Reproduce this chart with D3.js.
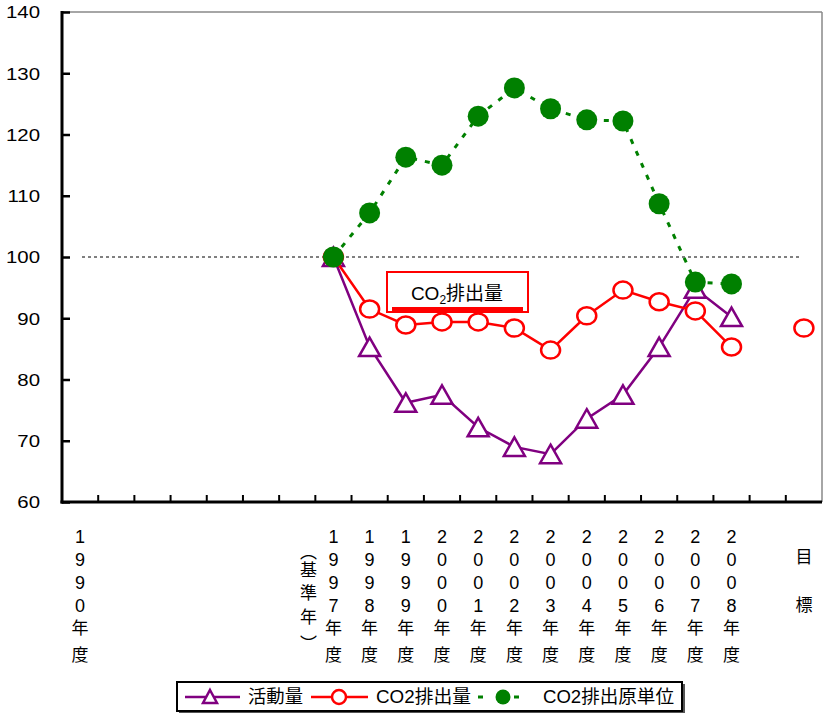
<!DOCTYPE html>
<html><head><meta charset="utf-8">
<script src="https://cdn.jsdelivr.net/npm/d3@7"></script>
<style>
body{margin:0;background:#fff;}
svg{display:block;}
text{font-family:"Liberation Sans",Arial,"Noto Sans CJK JP",sans-serif;}
.cjk{font-family:"Liberation Sans","Noto Sans CJK JP",sans-serif;}
</style></head>
<body>
<svg id="c" width="823" height="713"></svg>
<script>
// ---- data ----
const categories = ["1990","1991","1992","1993","1994","1995","1996","1997","1998","1999","2000","2001","2002","2003","2004","2005","2006","2007","2008","blank","目標"];
const xLabels = ["1990年度","","","","","","","1997年度","1998年度","1999年度","2000年度","2001年度","2002年度","2003年度","2004年度","2005年度","2006年度","2007年度","2008年度","","目標"];
const years = ["1997","1998","1999","2000","2001","2002","2003","2004","2005","2006","2007","2008"];
const activity = [100, 85.3, 76.2, 77.5, 72.2, 69.0, 67.8, 73.6, 77.5, 85.3, 94.8, 90.2];
const emission = [100, 91.5, 88.9, 89.4, 89.4, 88.4, 84.8, 90.4, 94.6, 92.7, 91.2, 85.3];
const emissionTarget = 88.4;
const intensity = [100, 107.2, 116.3, 115.0, 123.0, 127.6, 124.2, 122.4, 122.2, 108.7, 95.9, 95.6];
const yTicks = [60,70,80,90,100,110,120,130,140];
const seriesNames = ["活動量","CO2排出量","CO2排出原単位"];

const svg = d3.select("#c");
const L=62, R=822, T=12, B=502;
const x = d3.scaleBand().domain(categories).range([L,R]).padding(0);
const y = d3.scaleLinear().domain([60,140]).range([B,T]);
const cx = c => x(c)+x.bandwidth()/2;
const stretch = (sel,k) => sel.each(function(){ const w=this.getComputedTextLength(); d3.select(this).attr("textLength",w*k).attr("lengthAdjust","spacingAndGlyphs"); });

// frame top/right
svg.append("line").attr("x1",L).attr("x2",R).attr("y1",T).attr("y2",T).attr("stroke","#888").attr("stroke-width",1.5);
svg.append("line").attr("x1",R).attr("x2",R).attr("y1",T).attr("y2",B).attr("stroke","#888").attr("stroke-width",1.5);

// y axis
const ya = svg.append("g").attr("transform",`translate(${L},0)`)
  .call(d3.axisRight(y).tickValues(yTicks).tickSize(8).tickFormat(d3.format("d")));
ya.select(".domain").remove();
ya.selectAll("line").attr("stroke","#000").attr("stroke-width",2.5);
ya.selectAll("text").attr("x",-22).attr("text-anchor","end").attr("font-size",17).attr("fill","#000").attr("dy","0.35em");
stretch(ya.selectAll("text"),1.2);
svg.append("line").attr("x1",L).attr("x2",L).attr("y1",T-1).attr("y2",B+1.5).attr("stroke","#000").attr("stroke-width",3);

// x axis
const xa = svg.append("g").attr("transform",`translate(0,${B})`)
  .call(d3.axisTop(x).tickSize(0).tickFormat(""));
xa.select(".domain").remove();
svg.append("line").attr("x1",L-1.5).attr("x2",R).attr("y1",B).attr("y2",B).attr("stroke","#000").attr("stroke-width",3);
svg.append("g").selectAll("line").data(categories.slice(1)).join("line")
  .attr("x1",d=>x(d)).attr("x2",d=>x(d)).attr("y1",B).attr("y2",B-7).attr("stroke","#000").attr("stroke-width",2);

// vertical x labels
const yearOffsets=[35,58,81,104,126,153];
const lab = svg.append("g").attr("font-size",17).attr("fill","#000");
categories.forEach((c,i)=>{
  const s = xLabels[i]; if(!s) return;
  const chars = Array.from(s);
  let offs = chars.length===2 ? [55,103] : yearOffsets;
  chars.forEach((ch,j)=>{
    const t = lab.append("text").attr("class","cjk").attr("x",cx(c)).attr("y",B+offs[j])
      .attr("text-anchor","middle").attr("dominant-baseline","central").text(ch);
    if(/[0-9]/.test(ch)) t.attr("font-size",18);
  });
});
// (基準年)
const kj = ["︵","基","準","年","︶"], kjOff=[50,68,91,115,142];
kj.forEach((ch,j)=>{
  lab.append("text").attr("class","cjk").attr("x",cx("1997")-25).attr("y",B+kjOff[j])
    .attr("text-anchor","middle").attr("dominant-baseline","central").text(ch);
});

// 100 reference line
svg.append("line").attr("x1",82).attr("x2",800).attr("y1",y(100)).attr("y2",y(100))
  .attr("stroke","#000").attr("stroke-width",1).attr("stroke-dasharray","3,3");

const line = d3.line().x(d=>cx(d[0])).y(d=>y(d[1]));
const act = years.map((yr,i)=>[yr,activity[i]]);
const emi = years.map((yr,i)=>[yr,emission[i]]);
const inten = years.map((yr,i)=>[yr,intensity[i]]);

function triPath(cxp,cyp){
  return `M${cxp},${cyp-9.5}L${cxp+10.5},${cyp+9}L${cxp-10.5},${cyp+9}Z`;
}

// activity
svg.append("path").attr("d",line(act)).attr("fill","none").attr("stroke","#800080").attr("stroke-width",2.5);
svg.append("g").selectAll("path").data(act).join("path")
  .attr("d",d=>triPath(cx(d[0]),y(d[1]))).attr("fill","#fff").attr("stroke","#800080").attr("stroke-width",2.5);

// emission
svg.append("path").attr("d",line(emi)).attr("fill","none").attr("stroke","#ff0000").attr("stroke-width",2.5);
svg.append("g").selectAll("ellipse").data(emi.concat([["目標",emissionTarget]])).join("ellipse")
  .attr("cx",d=>cx(d[0])).attr("cy",d=>y(d[1])).attr("rx",9.5).attr("ry",8.5)
  .attr("fill","#fff").attr("stroke","#ff0000").attr("stroke-width",2.5);

// intensity
svg.append("path").attr("d",line(inten)).attr("fill","none").attr("stroke","#008000").attr("stroke-width",3).attr("stroke-dasharray","5,8");
svg.append("g").selectAll("circle").data(inten).join("circle")
  .attr("cx",d=>cx(d[0])).attr("cy",d=>y(d[1])).attr("r",10.5).attr("fill","#008000");

// annotation box
const ann = svg.append("g");
ann.append("rect").attr("x",387).attr("y",272).attr("width",141).attr("height",40).attr("fill","#fff").attr("stroke","#ff0000").attr("stroke-width",2);
ann.append("line").attr("x1",392).attr("x2",523).attr("y1",309).attr("y2",309).attr("stroke","#ff0000").attr("stroke-width",4);
const at = ann.append("text").attr("class","cjk").attr("x",457).attr("y",300).attr("text-anchor","middle").attr("font-size",19).attr("fill","#000");
at.append("tspan").text("CO");
at.append("tspan").attr("font-size",12).attr("dy",4).text("2");
at.append("tspan").attr("dy",-4).text("排出量");

// legend
const lg = svg.append("g");
lg.append("rect").attr("x",179).attr("y",684).attr("width",506).attr("height",29).attr("fill","#555");
lg.append("rect").attr("x",177).attr("y",682).attr("width",505).attr("height",29).attr("fill","#fff").attr("stroke","#000").attr("stroke-width",2);
const ly = 697;
lg.append("line").attr("x1",185).attr("x2",240).attr("y1",ly).attr("y2",ly).attr("stroke","#800080").attr("stroke-width",2.5);
lg.append("path").attr("d",`M210,${ly-7}L217,${ly+6}L203,${ly+6}Z`).attr("fill","#fff").attr("stroke","#800080").attr("stroke-width",2.5);
const lw = [55,95,131], lx=[248,376,543];
lg.append("line").attr("x1",311).attr("x2",368).attr("y1",ly).attr("y2",ly).attr("stroke","#ff0000").attr("stroke-width",2.5);
lg.append("ellipse").attr("cx",339).attr("cy",ly).attr("rx",7).attr("ry",7).attr("fill","#fff").attr("stroke","#ff0000").attr("stroke-width",2.5);
lg.append("line").attr("x1",478).attr("x2",530).attr("y1",ly).attr("y2",ly).attr("stroke","#008000").attr("stroke-width",3).attr("stroke-dasharray","5,13");
lg.append("circle").attr("cx",503).attr("cy",ly).attr("r",7.5).attr("fill","#008000");
seriesNames.forEach((n,i)=>{
  lg.append("text").attr("class","cjk").attr("x",lx[i]).attr("y",ly).attr("dominant-baseline","central")
    .attr("font-size",18).attr("textLength",lw[i]).attr("lengthAdjust","spacingAndGlyphs").text(n);
});
</script>
</body></html>
